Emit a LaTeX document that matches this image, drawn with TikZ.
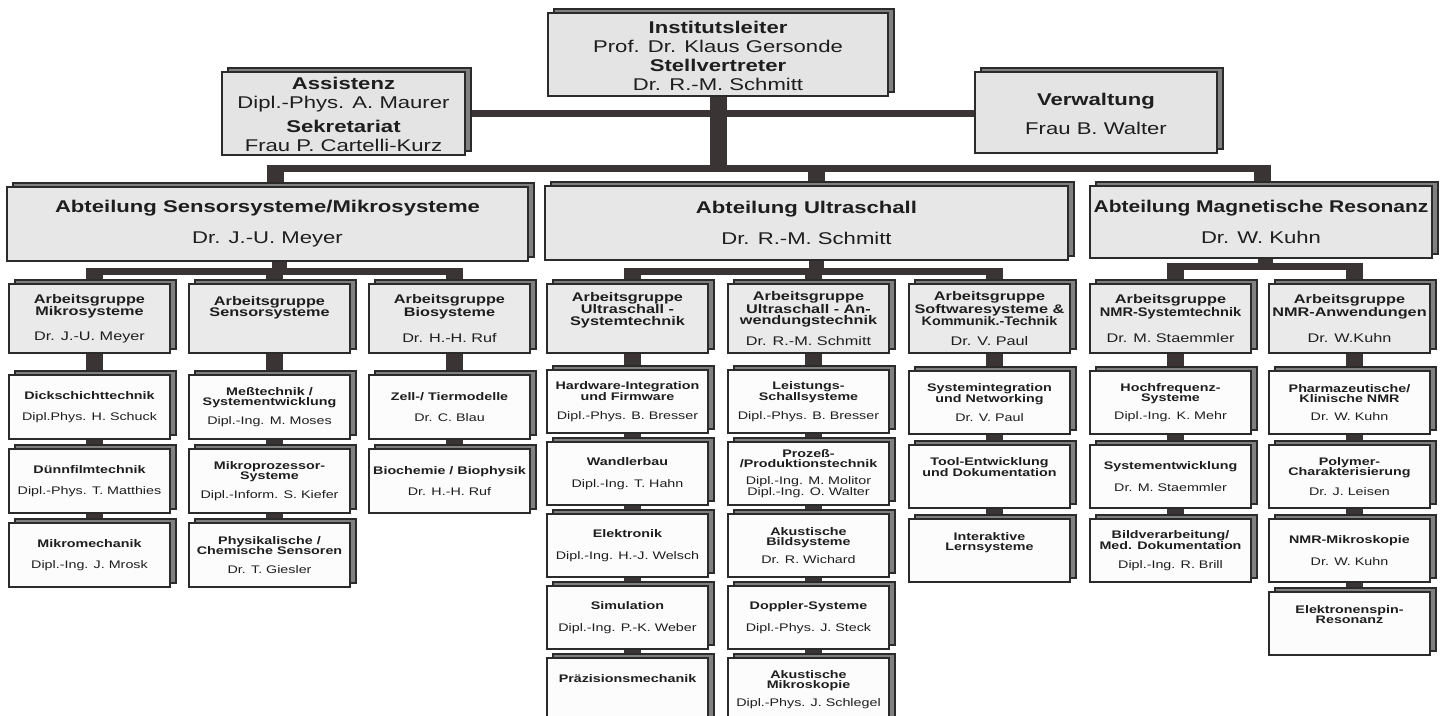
\documentclass[tikz,border=0pt]{standalone}
\usepackage{fontspec}
\setmainfont{Liberation Sans}[FakeStretch=1.3]
\usepackage{graphicx}
\usetikzlibrary{shadows}
\pgfdeclarelayer{bg}
\pgfsetlayers{bg,main}
\definecolor{barc}{HTML}{3A3434}
\definecolor{bordc}{HTML}{2B2B2B}
\definecolor{shadc}{HTML}{808080}
\definecolor{topc}{HTML}{E4E4E4}
\definecolor{depc}{HTML}{E7E7E7}
\definecolor{agc}{HTML}{EAEAEA}
\definecolor{subc}{HTML}{FCFCFC}
\definecolor{txtc}{HTML}{1E1E1E}
\newcommand\FTop{\fontsize{17}{19}\selectfont}
\newcommand\FAg{\fontsize{12.5}{11.5}\selectfont}
\newcommand\FSub{\fontsize{11}{10.3}\selectfont}
\newcommand\sqz[2]{\scalebox{#1}[1]{#2}}
\begin{document}
\begin{tikzpicture}[x=1pt,y=-1pt,
 orgbox/.style={draw=bordc, line width=1.5pt, inner sep=0pt, align=center, text=txtc,
   copy shadow={shadow xshift=6pt, shadow yshift=4pt, fill=shadc, draw=bordc, line width=1.2pt}},
 topbox/.style={orgbox, fill=topc, font=\FTop},
 depbox/.style={orgbox, fill=depc, font=\FTop, minimum height=74pt, execute at begin node={\rule{0pt}{20pt}}},
 agbox/.style={orgbox, fill=agc, font=\FAg, minimum width=161pt, minimum height=69pt, execute at begin node={\rule{0pt}{16pt}}},
 subbox/.style={orgbox, fill=subc, font=\FSub, minimum width=161pt, minimum height=63pt, execute at begin node={\rule{0pt}{15pt}}},
 hbar/.style={draw=barc, line width=7pt},
 vbar/.style={draw=barc, line width=17pt},
]
\useasboundingbox (0,0) rectangle (1440,715);

% top level
\node[topbox, minimum width=340pt, minimum height=83pt] (inst) at (718,54.5)
 {\rule{0pt}{16pt}\textbf{Institutsleiter}\\ Prof. Dr. Klaus Gersonde\\ \textbf{Stellvertreter}\\ Dr. R.-M. Schmitt};
\node[topbox, minimum width=243pt, minimum height=83pt] (assist) at (343.5,113.5)
 {\rule{0pt}{15pt}\textbf{Assistenz}\\ Dipl.-Phys. A. Maurer\\[5pt] \textbf{Sekretariat}\\ Frau P. Cartelli-Kurz};
\node[topbox, minimum width=242pt, minimum height=81pt] (verw) at (1096,112.5)
 {\rule{0pt}{16pt}\textbf{Verwaltung}\\[10pt] Frau B. Walter};

% departments
\node[depbox, minimum width=521pt] (dS) at (267.5,224)
 {\textbf{Abteilung Sensorsysteme/Mikrosysteme}\\[12pt] Dr. J.-U. Meyer};
\node[depbox, minimum width=523pt] (dU) at (806.5,223)
 {\textbf{Abteilung Ultraschall}\\[12pt] Dr. R.-M. Schmitt};
\node[depbox, minimum width=342pt, minimum height=72pt] (dM) at (1261,222)
 {\textbf{\sqz{0.95}{Abteilung Magnetische Resonanz}}\\[12pt] Dr. W. Kuhn};

% Arbeitsgruppen
\node[agbox] (s1) at (89.5,318.5) {\textbf{Arbeitsgruppe}\\ \textbf{Mikrosysteme}\\[13pt] Dr. J.-U. Meyer};
\node[agbox] (s2) at (269.5,318.5) {\textbf{Arbeitsgruppe}\\ \textbf{Sensorsysteme}\\[13pt] \phantom{Dr.}};
\node[agbox] (s3) at (449.5,318.5) {\textbf{Arbeitsgruppe}\\ \textbf{Biosysteme}\\[13pt] Dr. H.-H. Ruf};
\node[agbox] (u1) at (627.5,318.5) {\textbf{Arbeitsgruppe}\\ \textbf{Ultraschall -}\\ \textbf{Systemtechnik}\\[8pt] \phantom{Dr.}};
\node[agbox] (u2) at (808.5,318.5) {\textbf{Arbeitsgruppe}\\ \textbf{Ultraschall - An-}\\ \textbf{wendungstechnik}\\[8pt] Dr. R.-M. Schmitt};
\node[agbox] (u3) at (989.5,318.5) {\textbf{Arbeitsgruppe}\\ \textbf{Softwaresysteme \&}\\ \textbf{\sqz{0.88}{Kommunik.-Technik}}\\[8pt] Dr. V. Paul};
\node[agbox] (m1) at (1170.5,318.5) {\textbf{Arbeitsgruppe}\\ \textbf{\sqz{0.9}{NMR-Systemtechnik}}\\[13pt] Dr. M. Staemmler};
\node[agbox] (m2) at (1349.5,318.5) {\textbf{Arbeitsgruppe}\\ \textbf{NMR-Anwendungen}\\[13pt] Dr. W.Kuhn};

% Sensor column boxes
\node[subbox, minimum height=64pt] (s1a) at (89.5,407) {\textbf{Dickschichttechnik}\\[11pt] Dipl.Phys. H. Schuck};
\node[subbox, minimum height=64pt] (s1b) at (89.5,481) {\textbf{Dünnfilmtechnik}\\[11pt] Dipl.-Phys. T. Matthies};
\node[subbox, minimum height=64pt] (s1c) at (89.5,555) {\textbf{Mikromechanik}\\[11pt] Dipl.-Ing. J. Mrosk};
\node[subbox, minimum height=64pt] (s2a) at (269.5,407) {\textbf{Meßtechnik /}\\ \textbf{Systementwicklung}\\[8pt] Dipl.-Ing. M. Moses};
\node[subbox, minimum height=64pt] (s2b) at (269.5,481) {\textbf{Mikroprozessor-}\\ \textbf{Systeme}\\[8pt] Dipl.-Inform. S. Kiefer};
\node[subbox, minimum height=64pt] (s2c) at (269.5,555) {\textbf{Physikalische /}\\ \textbf{Chemische Sensoren}\\[8pt] Dr. T. Giesler};
\node[subbox, minimum height=64pt] (s3a) at (449.5,407) {\textbf{Zell-/ Tiermodelle}\\[11pt] Dr. C. Blau};
\node[subbox, minimum height=64pt] (s3b) at (449.5,481) {\textbf{Biochemie / Biophysik}\\[11pt] Dr. H.-H. Ruf};

% Ultraschall columns
\node[subbox] (u1a) at (627.5,401.5) {\textbf{Hardware-Integration}\\ \textbf{und Firmware}\\[8pt] Dipl.-Phys. B. Bresser};
\node[subbox] (u1b) at (627.5,473.5) {\textbf{Wandlerbau}\\[11pt] Dipl.-Ing. T. Hahn};
\node[subbox] (u1c) at (627.5,545.5) {\textbf{Elektronik}\\[11pt] Dipl.-Ing. H.-J. Welsch};
\node[subbox] (u1d) at (627.5,617.5) {\textbf{Simulation}\\[11pt] Dipl.-Ing. P.-K. Weber};
\node[subbox] (u1e) at (627.5,689.5) {\textbf{Präzisionsmechanik}\\[11pt] \phantom{Dr.}};
\node[subbox] (u2a) at (808.5,401.5) {\textbf{Leistungs-}\\ \textbf{Schallsysteme}\\[8pt] Dipl.-Phys. B. Bresser};
\node[subbox] (u2b) at (808.5,473.5) {\textbf{Prozeß-}\\ \textbf{/Produktionstechnik}\\[6.5pt] Dipl.-Ing. M. Molitor\\ Dipl.-Ing. O. Walter};
\node[subbox] (u2c) at (808.5,545.5) {\textbf{Akustische}\\ \textbf{Bildsysteme}\\[8pt] Dr. R. Wichard};
\node[subbox] (u2d) at (808.5,617.5) {\textbf{Doppler-Systeme}\\[11pt] Dipl.-Phys. J. Steck};
\node[subbox] (u2e) at (808.5,689.5) {\textbf{Akustische}\\ \textbf{Mikroskopie}\\[8pt] Dipl.-Phys. J. Schlegel};
\node[subbox] (u3a) at (989.5,402.5) {\textbf{Systemintegration}\\ \textbf{und Networking}\\[8pt] Dr. V. Paul};
\node[subbox] (u3b) at (989.5,476.5) {\textbf{Tool-Entwicklung}\\ \textbf{und Dokumentation}\\[8pt] \phantom{Dr.}};
\node[subbox] (u3c) at (989.5,550.5) {\textbf{Interaktive}\\ \textbf{Lernsysteme}\\[8pt] \phantom{Dr.}};

% Magnetische Resonanz columns
\node[subbox] (m1a) at (1170.5,402.5) {\textbf{Hochfrequenz-}\\ \textbf{Systeme}\\[8pt] Dipl.-Ing. K. Mehr};
\node[subbox] (m1b) at (1170.5,476.5) {\textbf{Systementwicklung}\\[11pt] Dr. M. Staemmler};
\node[subbox] (m1c) at (1170.5,550.5) {\textbf{Bildverarbeitung/}\\ \textbf{Med. Dokumentation}\\[8pt] Dipl.-Ing. R. Brill};
\node[subbox] (m2a) at (1349.5,402.5) {\textbf{Pharmazeutische/}\\ \textbf{Klinische NMR}\\[8pt] Dr. W. Kuhn};
\node[subbox] (m2b) at (1349.5,476.5) {\textbf{Polymer-}\\ \textbf{Charakterisierung}\\[8pt] Dr. J. Leisen};
\node[subbox] (m2c) at (1349.5,550.5) {\textbf{NMR-Mikroskopie}\\[11pt] Dr. W. Kuhn};
\node[subbox] (m2d) at (1349.5,623.5) {\textbf{Elektronenspin-}\\ \textbf{Resonanz}\\[8pt] \phantom{Dr.}};

% connectors
\begin{pgfonlayer}{bg}
\fill[white] (0,0) rectangle (1440,715);
\coordinate (hS) at (275,168);
\coordinate (hU) at (816,168);
\coordinate (hM) at (1262,168);
\draw[vbar, shorten >=-3.5pt] (inst.south) -- (inst.south |- hS);
\draw[hbar] (assist.east) -- (assist.east -| verw.west);
\draw[hbar] (hS) -- (hM);
\draw[vbar, shorten <=-3.5pt] (hS) -- (hS |- dS.north);
\draw[vbar, shorten <=-3.5pt] (hU) -- (hU |- dU.north);
\draw[vbar, shorten <=-3.5pt] (hM) -- (hM |- dM.north);

\coordinate (bS) at (279,271.5);
\coordinate (bU) at (816,271.5);
\coordinate (bM) at (1265,266.5);
\draw[vbar, line width=15pt, shorten >=-3.5pt] (dS.south -| bS) -- (bS);
\draw[vbar, line width=15pt, shorten >=-3.5pt] (dU.south -| bU) -- (bU);
\draw[vbar, line width=15pt, shorten >=-3.5pt] (dM.south -| bM) -- (bM);
\draw[hbar] ([xshift=5pt]s1.north |- bS) -- ([xshift=5pt]s3.north |- bS);
\draw[hbar] ([xshift=5pt]u1.north |- bU) -- ([xshift=5pt]u3.north |- bU);
\draw[hbar] ([xshift=5pt]m1.north |- bM) -- ([xshift=5pt]m2.north |- bM);
\foreach \n in {s1,s2,s3} \draw[vbar, shorten <=-3.5pt] ([xshift=5pt]\n.north |- bS) -- ([xshift=5pt]\n.north);
\foreach \n in {u1,u2,u3} \draw[vbar, shorten <=-3.5pt] ([xshift=5pt]\n.north |- bU) -- ([xshift=5pt]\n.north);
\foreach \n in {m1,m2} \draw[vbar, shorten <=-3.5pt] ([xshift=5pt]\n.north |- bM) -- ([xshift=5pt]\n.north);

\draw[vbar] ([xshift=5pt]s1.south) -- ([xshift=5pt]s1c.north);
\draw[vbar] ([xshift=5pt]s2.south) -- ([xshift=5pt]s2c.north);
\draw[vbar] ([xshift=5pt]s3.south) -- ([xshift=5pt]s3b.north);
\draw[vbar] ([xshift=5pt]u1.south) -- ([xshift=5pt]u1e.north);
\draw[vbar] ([xshift=5pt]u2.south) -- ([xshift=5pt]u2e.north);
\draw[vbar] ([xshift=5pt]u3.south) -- ([xshift=5pt]u3c.north);
\draw[vbar] ([xshift=5pt]m1.south) -- ([xshift=5pt]m1c.north);
\draw[vbar] ([xshift=5pt]m2.south) -- ([xshift=5pt]m2d.north);
\end{pgfonlayer}
\end{tikzpicture}
\end{document}
